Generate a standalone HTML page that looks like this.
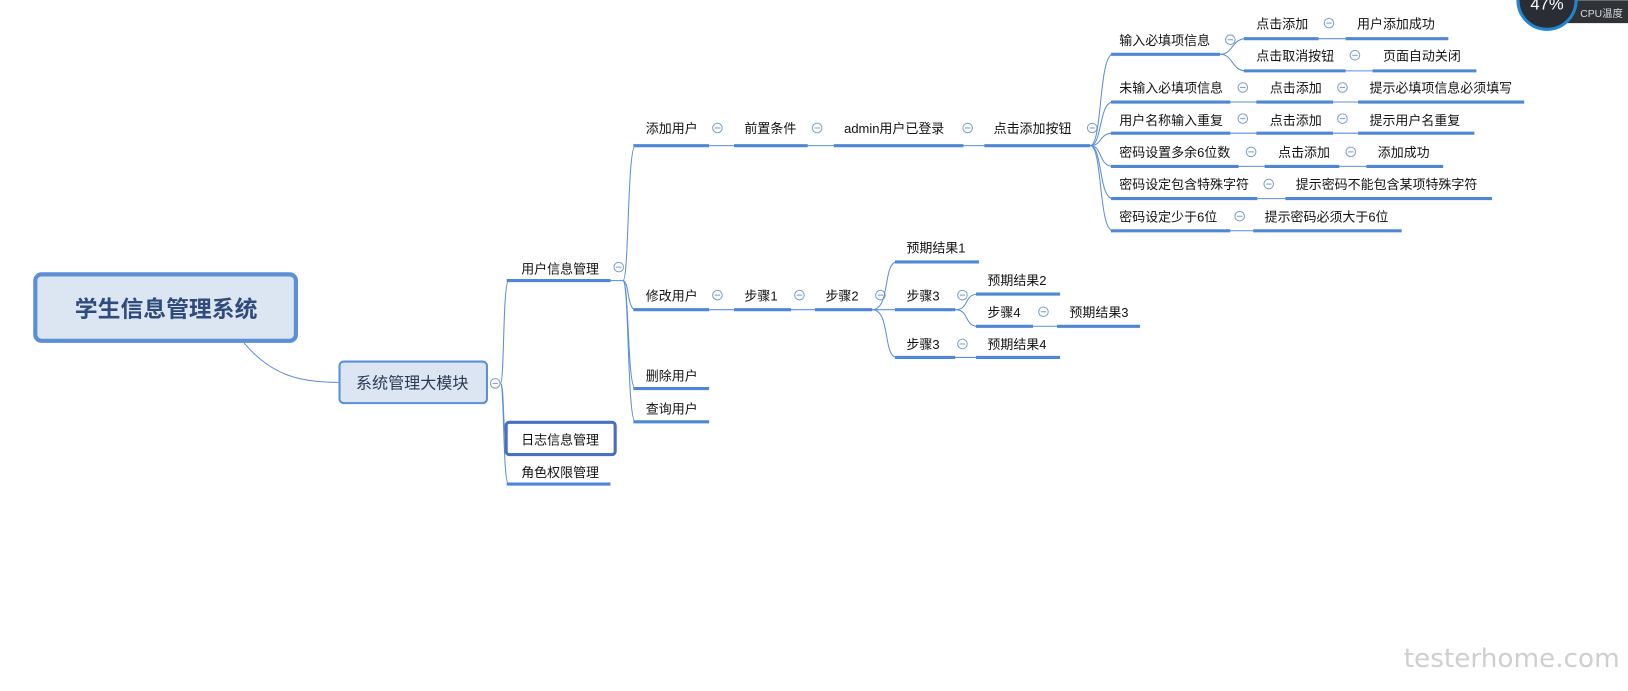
<!DOCTYPE html>
<html><head><meta charset="utf-8"><style>
html,body{margin:0;padding:0;background:#fff;}
svg{display:block}
text{font-family:"Liberation Sans","Noto Sans CJK SC",sans-serif;font-size:12.5px;fill:#111;}
.u{stroke:#4f87d3;stroke-width:3;}
.c{fill:none;stroke:#5b8fd6;stroke-width:1;}
.o{fill:#fff;stroke:#7d9fd0;stroke-width:1;}
</style></head><body>
<svg width="1628" height="691" viewBox="0 0 1568 665" xmlns="http://www.w3.org/2000/svg">
<defs>
<g id="m"><circle class="o" cx="0" cy="0" r="4.6"/><line x1="-2.6" y1="0" x2="2.6" y2="0" stroke="#7d9fd0" stroke-width="1"/></g>
</defs>

<!-- root -->
<path class="c" d="M235 330 C 262 362, 290 368, 326 368"/>
<rect x="34" y="264" width="251" height="64" rx="6" fill="#dce6f2" stroke="#5b8fd6" stroke-width="4"/>
<text x="160" y="305" text-anchor="middle" style="font-size:22px;font-weight:bold;fill:#2f4b7c">学生信息管理系统</text>

<rect x="327" y="348" width="142" height="40" rx="4" fill="#dce6f2" stroke="#5b8fd6" stroke-width="2"/>
<text x="397" y="374" text-anchor="middle" style="font-size:15.5px;fill:#2a3a55">系统管理大模块</text>
<use href="#m" x="477" y="369"/>

<!-- level2 connectors -->
<path class="c" d="M482 369 C 486 369, 484 270, 490 270"/>
<path class="c" d="M482 369 C 486 369, 484 422, 488 422"/>
<path class="c" d="M482 369 C 486 369, 484 466, 490 466"/>
<line class="u" x1="488" y1="270" x2="588" y2="270"/>
<text x="502" y="263">用户信息管理</text>
<use href="#m" x="596" y="257"/>
<rect x="487.5" y="406.5" width="105" height="31" rx="3" fill="#fff" stroke="#4a6fc0" stroke-width="3"/>
<text x="502" y="428">日志信息管理</text>
<line class="u" x1="488" y1="466" x2="588" y2="466"/>
<text x="502" y="459">角色权限管理</text>

<!-- level3 -->
<path class="c" d="M588 270 L600 270"/>
<path class="c" d="M600 270 C 606 270, 604 140, 612 140"/>
<path class="c" d="M600 270 C 606 270, 604 298, 612 298"/>
<path class="c" d="M600 270 C 606 270, 604 374, 612 374"/>
<path class="c" d="M600 270 C 606 270, 604 406, 612 406"/>
<line class="u" x1="610" y1="140" x2="683" y2="140"/><text x="622" y="128">添加用户</text><use href="#m" x="691" y="123"/>
<line class="u" x1="610" y1="298" x2="683" y2="298"/><text x="622" y="289">修改用户</text><use href="#m" x="691" y="284"/>
<line class="u" x1="610" y1="374" x2="683" y2="374"/><text x="622" y="366">删除用户</text>
<line class="u" x1="610" y1="406" x2="683" y2="406"/><text x="622" y="398">查询用户</text>

<!-- 添加用户 chain -->
<line class="c" x1="683" y1="140" x2="707" y2="140"/>
<line class="u" x1="707" y1="140" x2="778" y2="140"/><text x="717" y="128">前置条件</text><use href="#m" x="787" y="123"/>
<line class="c" x1="778" y1="140" x2="803" y2="140"/>
<line class="u" x1="803" y1="140" x2="928" y2="140"/><text x="813" y="128">admin用户已登录</text><use href="#m" x="932" y="123"/>
<line class="c" x1="928" y1="140" x2="948" y2="140"/>
<line class="u" x1="948" y1="140" x2="1050" y2="140"/><text x="957" y="128">点击添加按钮</text><use href="#m" x="1052" y="123"/>

<!-- spine from 点击添加按钮 -->
<path class="c" d="M1050 140 C 1062 140, 1058 52, 1072 52"/>
<path class="c" d="M1050 140 C 1062 140, 1058 98, 1072 98"/>
<path class="c" d="M1050 140 C 1062 140, 1058 128, 1072 128"/>
<path class="c" d="M1050 140 C 1062 140, 1058 160, 1072 160"/>
<path class="c" d="M1050 140 C 1062 140, 1058 191, 1072 191"/>
<path class="c" d="M1050 140 C 1062 140, 1058 222, 1072 222"/>

<line class="u" x1="1070" y1="52" x2="1175" y2="52"/><text x="1078" y="43">输入必填项信息</text><use href="#m" x="1185" y="38"/>
<path class="c" d="M1175 52 C 1188 52, 1186 37, 1200 37"/>
<path class="c" d="M1175 52 C 1188 52, 1186 68, 1200 68"/>
<line class="u" x1="1198" y1="37" x2="1270" y2="37"/><text x="1210" y="27">点击添加</text><use href="#m" x="1280" y="22"/>
<line class="c" x1="1270" y1="37" x2="1296" y2="37"/>
<line class="u" x1="1296" y1="37" x2="1395" y2="37"/><text x="1307" y="27">用户添加成功</text>
<line class="u" x1="1198" y1="68" x2="1296" y2="68"/><text x="1210" y="58">点击取消按钮</text><use href="#m" x="1305" y="53"/>
<line class="c" x1="1296" y1="68" x2="1322" y2="68"/>
<line class="u" x1="1322" y1="68" x2="1422" y2="68"/><text x="1332" y="58">页面自动关闭</text>

<line class="u" x1="1070" y1="98" x2="1185" y2="98"/><text x="1078" y="89">未输入必填项信息</text><use href="#m" x="1197" y="84"/>
<line class="c" x1="1185" y1="98" x2="1210" y2="98"/>
<line class="u" x1="1210" y1="98" x2="1284" y2="98"/><text x="1223" y="89">点击添加</text><use href="#m" x="1293" y="84"/>
<line class="c" x1="1284" y1="98" x2="1308" y2="98"/>
<line class="u" x1="1308" y1="98" x2="1468" y2="98"/><text x="1319" y="89">提示必填项信息必须填写</text>

<line class="u" x1="1070" y1="128" x2="1185" y2="128"/><text x="1078" y="120">用户名称输入重复</text><use href="#m" x="1197" y="114"/>
<line class="c" x1="1185" y1="128" x2="1210" y2="128"/>
<line class="u" x1="1210" y1="128" x2="1284" y2="128"/><text x="1223" y="120">点击添加</text><use href="#m" x="1293" y="114"/>
<line class="c" x1="1284" y1="128" x2="1308" y2="128"/>
<line class="u" x1="1308" y1="128" x2="1420" y2="128"/><text x="1319" y="120">提示用户名重复</text>

<line class="u" x1="1070" y1="160" x2="1193" y2="160"/><text x="1078" y="151">密码设置多余6位数</text><use href="#m" x="1205" y="146"/>
<line class="c" x1="1193" y1="160" x2="1218" y2="160"/>
<line class="u" x1="1218" y1="160" x2="1290" y2="160"/><text x="1231" y="151">点击添加</text><use href="#m" x="1301" y="146"/>
<line class="c" x1="1290" y1="160" x2="1316" y2="160"/>
<line class="u" x1="1316" y1="160" x2="1390" y2="160"/><text x="1327" y="151">添加成功</text>

<line class="u" x1="1070" y1="191" x2="1211" y2="191"/><text x="1078" y="182">密码设定包含特殊字符</text><use href="#m" x="1222" y="177"/>
<line class="c" x1="1211" y1="191" x2="1238" y2="191"/>
<line class="u" x1="1238" y1="191" x2="1437" y2="191"/><text x="1248" y="182">提示密码不能包含某项特殊字符</text>

<line class="u" x1="1070" y1="222" x2="1185" y2="222"/><text x="1078" y="213">密码设定少于6位</text><use href="#m" x="1194" y="208"/>
<line class="c" x1="1185" y1="222" x2="1207" y2="222"/>
<line class="u" x1="1207" y1="222" x2="1350" y2="222"/><text x="1218" y="213">提示密码必须大于6位</text>

<!-- 修改用户 chain -->
<line class="c" x1="683" y1="298" x2="707" y2="298"/>
<line class="u" x1="707" y1="298" x2="762" y2="298"/><text x="717" y="289">步骤1</text><use href="#m" x="770" y="284"/>
<line class="c" x1="762" y1="298" x2="785" y2="298"/>
<line class="u" x1="785" y1="298" x2="840" y2="298"/><text x="795" y="289">步骤2</text><use href="#m" x="848" y="284"/>
<path class="c" d="M840 298 C 858 298, 850 252, 864 252"/>
<path class="c" d="M840 298 L864 298"/>
<path class="c" d="M840 298 C 858 298, 850 344, 864 344"/>
<line class="u" x1="862" y1="252" x2="943" y2="252"/><text x="873" y="243">预期结果1</text>
<line class="u" x1="862" y1="298" x2="920" y2="298"/><text x="873" y="289">步骤3</text><use href="#m" x="927" y="284"/>
<line class="u" x1="862" y1="344" x2="920" y2="344"/><text x="873" y="336">步骤3</text><use href="#m" x="927" y="331"/>
<line class="c" x1="920" y1="344" x2="940" y2="344"/>
<line class="u" x1="940" y1="344" x2="1021" y2="344"/><text x="951" y="336">预期结果4</text>
<path class="c" d="M920 298 C 934 298, 928 283, 942 283"/>
<path class="c" d="M920 298 C 934 298, 928 314, 942 314"/>
<line class="u" x1="940" y1="283" x2="1021" y2="283"/><text x="951" y="274">预期结果2</text>
<line class="u" x1="940" y1="314" x2="995" y2="314"/><text x="951" y="305">步骤4</text><use href="#m" x="1005" y="300"/>
<line class="c" x1="995" y1="314" x2="1018" y2="314"/>
<line class="u" x1="1018" y1="314" x2="1098" y2="314"/><text x="1030" y="305">预期结果3</text>

<!-- CPU widget -->
<rect x="1505" y="0" width="63" height="22" fill="#2f3237"/>
<circle cx="1490" cy="0" r="28" fill="#2a2d33" stroke="#1f86d1" stroke-width="3"/>
<text x="1474" y="9" style="font-size:16px;fill:#fff">47%</text>
<text x="1522" y="16" style="font-size:10px;fill:#ddd">CPU温度</text>

<!-- watermark -->
<text x="1352" y="642" textLength="208" lengthAdjust="spacingAndGlyphs" style="font-size:25px;fill:#cfcfcf;font-family:'DejaVu Sans','Liberation Sans',sans-serif">testerhome.com</text>
</svg>
</body></html>
